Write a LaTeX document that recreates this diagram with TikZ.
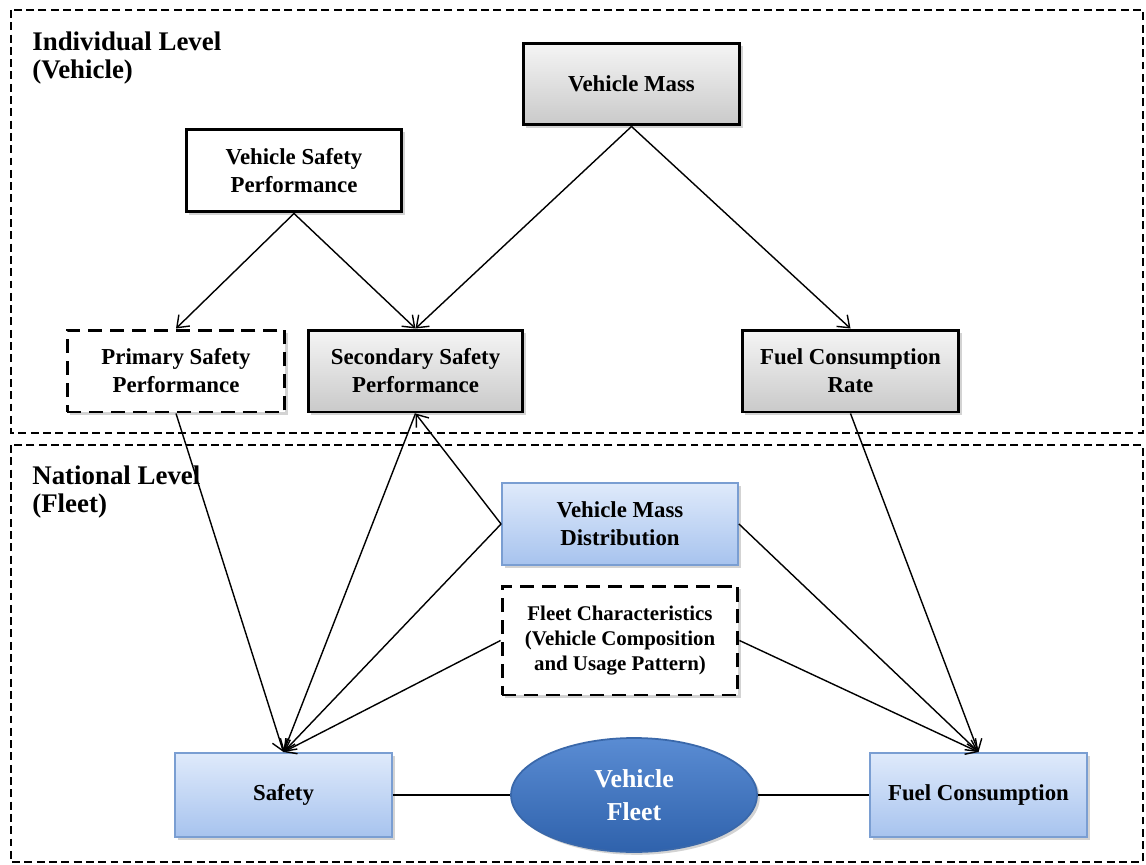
\documentclass[tikz,border=0pt]{standalone}
\usepackage{fontspec}
\setmainfont{Liberation Serif}
\usetikzlibrary{arrows.meta,shadows,shapes.geometric}
\definecolor{bluetop}{HTML}{DFEAFB}
\definecolor{bluebot}{HTML}{A7C3EE}
\definecolor{blueedge}{HTML}{7A9ED2}
\definecolor{fleettop}{HTML}{5A8CD3}
\definecolor{fleetbot}{HTML}{2F62AC}
\definecolor{fleetedge}{HTML}{3A68AA}
\tikzset{
	levelbox/.style={line width=0.8pt,dash pattern=on 4.5pt off 2.5pt},
	levellabel/.style={anchor=north west,align=left,inner sep=0pt,font=\fontsize{15.3}{16.5}\selectfont\bfseries},
	shade/.style={drop shadow={shadow xshift=1.6pt,shadow yshift=-1.6pt,opacity=0.35}},
	box/.style={rectangle,align=center,inner sep=2pt,font=\fontsize{13}{15.9}\selectfont\bfseries,shade},
	greybox/.style={box,draw=black,line width=1.7pt,top color=gray!8,bottom color=gray!42},
	plainbox/.style={box,draw=black,line width=1.7pt,fill=white},
	dashbox/.style={box,draw=black,line width=1.7pt,dash pattern=on 8pt off 4.5pt,fill=white},
	bluebox/.style={box,draw=blueedge,line width=1.1pt,top color=bluetop,bottom color=bluebot},
	fleetnode/.style={ellipse,draw=fleetedge,line width=1pt,top color=fleettop,bottom color=fleetbot,
		text=white,align=center,font=\fontsize{14.7}{18.7}\selectfont\bfseries,shade},
	link/.style={line width=0.8pt,-{Straight Barb[length=6pt,width=9pt]}},
	tie/.style={line width=0.8pt}
}

\begin{document}
\begin{tikzpicture}[x=0.02cm,y=-0.02cm]
	\useasboundingbox (0,0) rectangle (1146,865);
	%LEVELS
	\draw[levelbox] (11,10) rectangle (1143,433);		%individual
	\draw[levelbox] (11,445) rectangle (1143,862);		%national
	\node[levellabel] (indiv) at (32,31) {Individual Level\\(Vehicle)};
	\node[levellabel] (natl) at (32,465) {National Level\\(Fleet)};

	%VEHICLE
	\node[plainbox,minimum width=4.32cm,minimum height=1.66cm] (vsp) at (294,170.5) {Vehicle Safety\\Performance};
	\node[greybox,minimum width=4.34cm,minimum height=1.64cm] (vm) at (631.5,84) {Vehicle Mass};
	\node[dashbox,minimum width=4.36cm,minimum height=1.64cm] (psp) at (176,371) {Primary Safety\\Performance};
	\node[greybox,minimum width=4.30cm,minimum height=1.64cm] (ssp) at (415.5,371) {Secondary Safety\\Performance};
	\node[greybox,minimum width=4.34cm,minimum height=1.64cm] (fcr) at (850.5,371) {Fuel Consumption\\Rate};

	%FLEET
	\node[bluebox,minimum width=4.72cm,minimum height=1.64cm] (vmd) at (620,524) {Vehicle Mass\\Distribution};
	\node[dashbox,minimum width=4.72cm,minimum height=2.18cm,font=\fontsize{11.9}{14.2}\selectfont\bfseries] (fchar) at (620,640.5)
		{Fleet Characteristics\\(Vehicle Composition\\and Usage Pattern)};
	\node[bluebox,minimum width=4.34cm,minimum height=1.68cm] (safety) at (283.5,795) {Safety};
	\node[bluebox,minimum width=4.34cm,minimum height=1.68cm] (fuel) at (978.5,795) {Fuel Consumption};
	\node[fleetnode,minimum width=4.92cm,minimum height=2.28cm] (fleet) at (634,795) {Vehicle\\Fleet};

	%ARROWS
	\draw[link] (vsp.south) -- (psp.north);
	\draw[link] (vsp.south) -- (ssp.north);
	\draw[link] (vm.south) -- (ssp.north);
	\draw[link] (vm.south) -- (fcr.north);
	\draw[link] (psp.south) -- (safety.north);
	\draw[link] (ssp.south) -- (safety.north);
	\draw[link] (vmd.west) -- (ssp.south);
	\draw[link] (vmd.west) -- (safety.north);
	\draw[link] (fchar.west) -- (safety.north);
	\draw[link] (fcr.south) -- (fuel.north);
	\draw[link] (vmd.east) -- (fuel.north);
	\draw[link] (fchar.east) -- (fuel.north);
	\draw[tie] (safety) -- (fleet);
	\draw[tie] (fleet) -- (fuel);
\end{tikzpicture}
\end{document}
